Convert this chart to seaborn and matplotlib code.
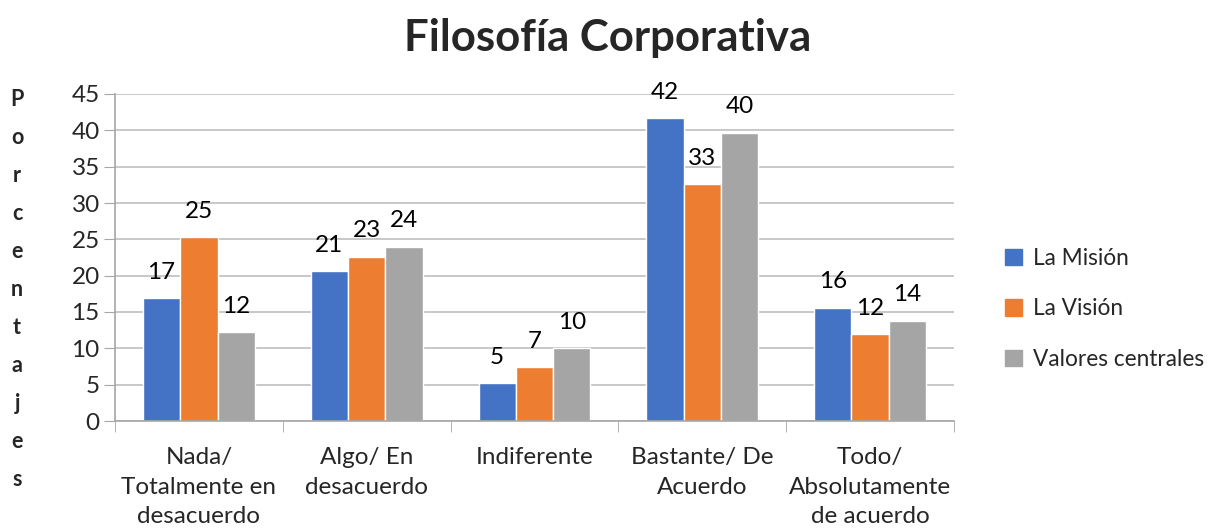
import pandas as pd
import matplotlib
matplotlib.use('Agg')
import matplotlib.pyplot as plt
import seaborn as sns

# === DATA ===
categories = ["Nada/\nTotalmente en\ndesacuerdo", "Algo/ En\ndesacuerdo", "Indiferente",
              "Bastante/ De\nAcuerdo", "Todo/\nAbsolutamente\nde acuerdo"]
series_names = ["La Misión", "La Visión", "Valores centrales"]
mision = [16.9, 20.6, 5.2, 41.7, 15.6]
vision = [25.3, 22.6, 7.4, 32.6, 12.0]
valores = [12.2, 24.0, 10.0, 39.7, 13.8]
colors = ["#4472C4", "#ED7D31", "#A5A5A5"]

df = pd.DataFrame({
    "cat": categories * 3,
    "serie": [s for s in series_names for _ in categories],
    "valor": mision + vision + valores,
})

sns.set_style("white")
plt.rcParams['font.family'] = ['Lato', 'DejaVu Sans']
FS = 17.5

fig = plt.figure(figsize=(12.11, 5.31), dpi=100)
ax = fig.add_axes([115 / 1211, 1 - 421 / 531, (954 - 115) / 1211, (421 - 94) / 531])

sns.barplot(data=df, x="cat", y="valor", hue="serie", palette=colors,
            width=0.667, gap=0, saturation=1, ax=ax, legend=False)

for cont in ax.containers:
    ax.bar_label(cont, fmt="%.0f", padding=11, fontsize=FS, color="#000000")

ax.set_ylim(0, 45)
ax.set_xlim(-0.5, 4.5)
ax.set_yticks(range(0, 46, 5))
ax.tick_params(axis='y', labelsize=FS, length=8, color="#A6A6A6", left=True, pad=3)
ax.set_xticks(range(5))
ax.set_xticklabels(categories, fontsize=FS, linespacing=1.48)
ax.tick_params(axis='x', which='major', length=0, pad=19)
ax.set_xticks([i - 0.5 for i in range(6)], minor=True)
ax.tick_params(axis='x', which='minor', length=8, color="#A6A6A6", bottom=True)
ax.yaxis.grid(True, color="#BFBFBF", linewidth=1.2)
ax.set_axisbelow(True)
for s in ["top", "right"]:
    ax.spines[s].set_visible(False)
for s in ["left", "bottom"]:
    ax.spines[s].set_color("#A6A6A6")
    ax.spines[s].set_linewidth(1.2)
ax.set_xlabel("")
ax.set_ylabel("")

fig.text(608 / 1211, 1 - 38 / 531, "Filosofía Corporativa", ha='center', va='center',
         fontsize=31.5, fontweight='bold')
fig.text(17 / 1211, 1 - 289 / 531, "\n".join("Porcentajes"), ha='center', va='center',
         fontsize=15.5, fontweight='bold', linespacing=2.0)

handles = [plt.Rectangle((0, 0), 1, 1, color=c) for c in colors]
fig.legend(handles, series_names, loc='center left', bbox_to_anchor=(985 / 1211, 1 - 309 / 531),
           frameon=False, fontsize=16.3, handlelength=0.75, handleheight=0.75,
           labelspacing=1.3, handletextpad=0.45)

fig.savefig("out.png", dpi=100)
